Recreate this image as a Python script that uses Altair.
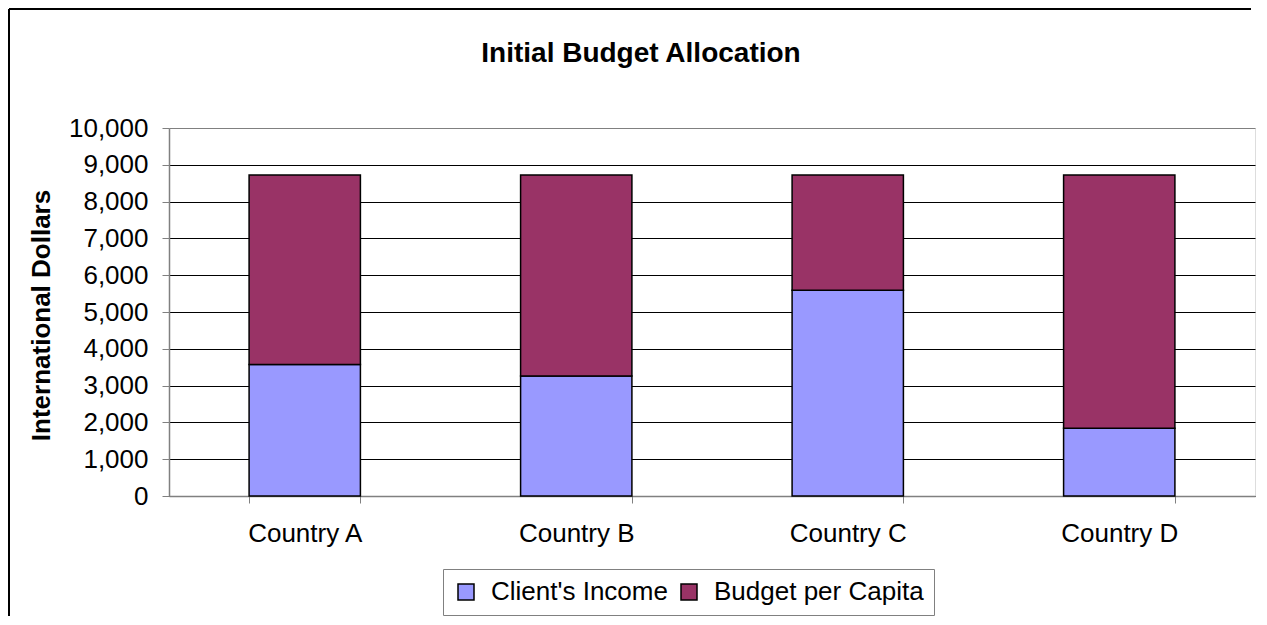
import altair as alt
import pandas as pd

countries = ["Country A", "Country B", "Country C", "Country D"]
series = ["Client's Income", "Budget per Capita"]
client_income = [3570, 3260, 5590, 1840]
budget_per_capita = [5150, 5460, 3130, 6880]
colors = ["#9999FF", "#993366"]
y_ticks = list(range(0, 10001, 1000))

rows = []
for i, c in enumerate(countries):
    rows.append({"country": c, "series": series[0], "value": client_income[i], "order": 0})
    rows.append({"country": c, "series": series[1], "value": budget_per_capita[i], "order": 1})
df = pd.DataFrame(rows)

FONT = "Liberation Sans"

bars = alt.Chart(df).mark_bar(stroke="black", strokeWidth=1.5).encode(
    x=alt.X(
        "country:N", sort=countries,
        scale=alt.Scale(paddingInner=0.59, paddingOuter=0.295),
        axis=alt.Axis(title=None, labelAngle=0, tickBand="extent", tickSize=7,
                      tickColor="#808080", domainColor="#808080", domainWidth=1.5,
                      labelFontSize=26, labelFont=FONT, labelColor="black",
                      labelPadding=17, grid=False),
    ),
    y=alt.Y(
        "value:Q", stack="zero",
        scale=alt.Scale(domain=[0, 10000], nice=False),
        axis=alt.Axis(values=y_ticks, format=",d", tickSize=7, tickColor="#808080",
                      domainColor="#808080", domainWidth=1.5,
                      labelFontSize=26, labelFont=FONT, labelColor="black", labelPadding=14,
                      grid=True, gridColor={"condition": {"test": "datum.value >= 10000", "value": "#808080"}, "value": "black"},
                      gridWidth=1,
                      title="International Dollars", titleFont=FONT, titleFontSize=26,
                      titleFontWeight="bold", titleColor="black", titleAngle=270,
                      titleX=-128, titleY=187, titleAlign="center", titleBaseline="middle"),
    ),
    color=alt.Color(
        "series:N",
        scale=alt.Scale(domain=series, range=colors),
        legend=alt.Legend(title=None, orient="none", legendX=274, legendY=441,
                          direction="horizontal", strokeColor="#808080", padding=10,
                          labelFont=FONT, labelFontSize=26, labelColor="black", labelLimit=0,
                          symbolType="square", symbolSize=256, symbolStrokeColor="black",
                          symbolStrokeWidth=1.5, symbolOpacity=1, columnPadding=8, labelOffset=12),
    ),
    order=alt.Order("order:Q"),
)

frame_df = pd.DataFrame({"k": [0]})
left_border = alt.Chart(frame_df).mark_rule(color="black", strokeWidth=2).encode(
    x=alt.value(-160), y=alt.value(-119), y2=alt.value(520)
)
top_border = alt.Chart(frame_df).mark_rule(color="black", strokeWidth=2).encode(
    x=alt.value(-160), x2=alt.value(1082), y=alt.value(-119)
)

chart = alt.layer(left_border, top_border, bars).properties(
    width=1086,
    height=368,
    autosize=alt.AutoSizeParams(type="none"),
    padding={"left": 161, "top": 120, "right": 4, "bottom": 120},
    title=alt.Title("Initial Budget Allocation", font=FONT, fontSize=28, fontWeight="bold",
                    color="black", anchor="middle", dx=-71, offset=0, dy=60),
).configure_view(stroke="#808080", strokeWidth=2).configure(background="white")

chart.save("out.html", embed_options={"renderer": "svg", "actions": False})
